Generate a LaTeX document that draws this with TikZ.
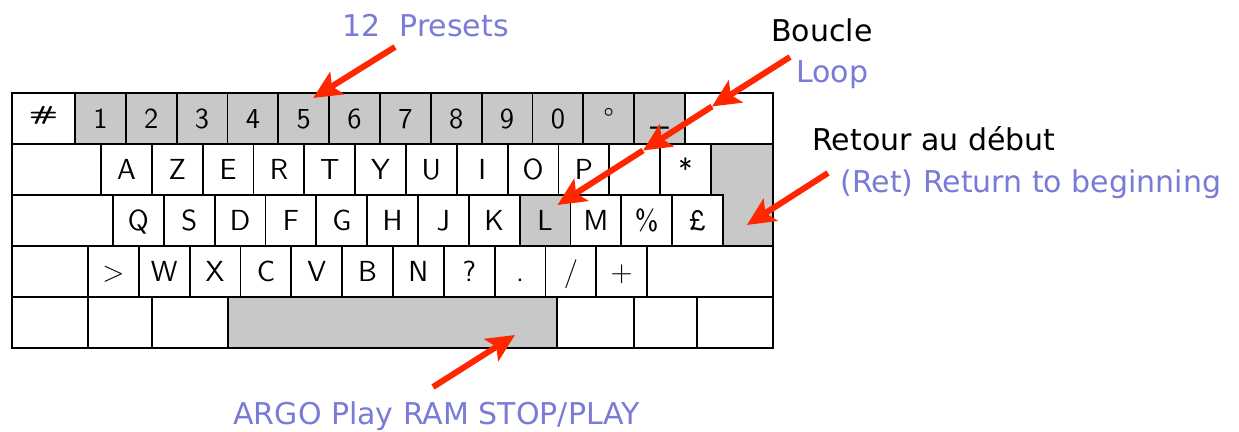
\documentclass[tikz,border=0pt]{standalone}
\usepackage{xcolor}
\usepackage{fontspec}
\setmainfont{DejaVu Sans}
\usepackage{tikz}
\usetikzlibrary{arrows.meta, calc}

\definecolor{keygray}{RGB}{200,200,200}
\definecolor{labelblue}{RGB}{120,124,214}
\definecolor{arrowred}{RGB}{255,38,0}

\begin{document}
\begin{tikzpicture}[x=0.5pt, y=-0.5pt,
    keycap/.style={draw, line width=0.9pt, anchor=north west, inner sep=0pt, outer sep=0pt,
      minimum width=#1*0.5pt, minimum height=25.5pt, text height=10pt, text depth=0pt,
      font=\sffamily\fontsize{14.5}{15}\selectfont},
    keycap/.default=50.83,
    graykey/.style={keycap=#1, fill=keygray},
    graykey/.default=50.83,
    lbl/.style={anchor=base west, inner sep=0pt, font=\fontsize{15}{18}\selectfont},
    en/.style={lbl, text=labelblue},
    fr/.style={lbl, text=black},
    pointer/.style={draw=arrowred, line width=3pt, -{Stealth[length=14pt, width=13pt, inset=3pt]}}]
    \fill[white] (0,0) rectangle (1239,432);
    \useasboundingbox (0,0) rectangle (1239,432);

    % return key (L-shaped, filled first, edges come from its neighbours)
    \node[graykey=62, draw=none] (retup) at (711,144) {};
    \node[graykey=50.5, draw=none] (ret) at (722.6,195) {};

    % row 1
    \node[keycap=63] (r1-0) at (12,93) {\raisebox{4pt}{\scalebox{1.1}[0.7]{\bfseries\#}}};
    \foreach \c [count=\i] in {1,2,3,4,5,6,7,8,9,0,°,\raisebox{2pt}{\_}}
      \node[graykey] (r1-\i) at ({75+(\i-1)*50.83},93) {\c};
    \node[keycap=88] (r1-13) at (685,93) {};

    % row 2
    \node[keycap=89] (r2-0) at (12,144) {};
    \foreach \c [count=\i] in {A,Z,E,R,T,Y,U,I,O,P,{},*}
      \node[keycap] (r2-\i) at ({101+(\i-1)*50.83},144) {\c};

    % row 3
    \node[keycap=101] (r3-0) at (12,195) {};
    \foreach \c/\s [count=\i] in {Q/keycap,S/keycap,D/keycap,F/keycap,G/keycap,H/keycap,
        J/keycap,K/keycap,L/graykey,M/keycap,\%/keycap,£/keycap}
      \node[\s] (r3-\i) at ({113+(\i-1)*50.83},195) {\c};

    % row 4
    \node[keycap=76] (r4-0) at (12,246) {};
    \foreach \c [count=\i] in {>,W,X,C,V,B,N,{?},{.},{/},+}
      \node[keycap] (r4-\i) at ({88+(\i-1)*50.83},246) {\c};
    \node[keycap=126] (r4-12) at (647,246) {};

    % row 5
    \node[keycap=76] (r5-1) at (12,297) {};
    \node[keycap=64] (r5-2) at (88,297) {};
    \node[keycap=76] (r5-3) at (152,297) {};
    \node[graykey=329] (space) at (228,297) {};
    \node[keycap=77] (r5-5) at (557,297) {};
    \node[keycap=63] (r5-6) at (634,297) {};
    \node[keycap=76] (r5-7) at (697,297) {};

    \draw[line width=1.4pt] (r1-0.north west) rectangle (r5-7.south east);

    % labels
    \node[en] (presets) at (342,37) {12\ \ Presets};
    \node[fr] (boucle) at (771,42) {Boucle};
    \node[en] (loop) at (796,83) {Loop};
    \node[fr] (retour) at (812,151) {Retour au début};
    \node[en] (return) at (840,193) {(Ret) Return to beginning};
    \node[en] (argo) at (233,425) {ARGO Play RAM STOP/PLAY};

    % arrows
    \coordinate (p-start) at (395,47);
    \coordinate (l-start) at (790,57);
    \coordinate (l-mid1) at (712,106.5);
    \coordinate (l-mid2) at (643,150.5);
    \coordinate (r-start) at (828,173);
    \coordinate (s-start) at (433,387);
    \draw[pointer] (p-start) -- ($(r1-5.north east)+(-16,5)$);
    \draw[pointer] (l-start) -- (l-mid1);
    \draw[pointer] (l-mid1) -- (l-mid2);
    \draw[pointer] (l-mid2) -- ($(r3-9.north east)+(-13,10)$);
    \draw[pointer] (r-start) -- ($(ret.center)+(-1,4.5)$);
    \draw[pointer] (s-start) -- ($(space.south east)+(-42,-13)$);
\end{tikzpicture}
\end{document}
